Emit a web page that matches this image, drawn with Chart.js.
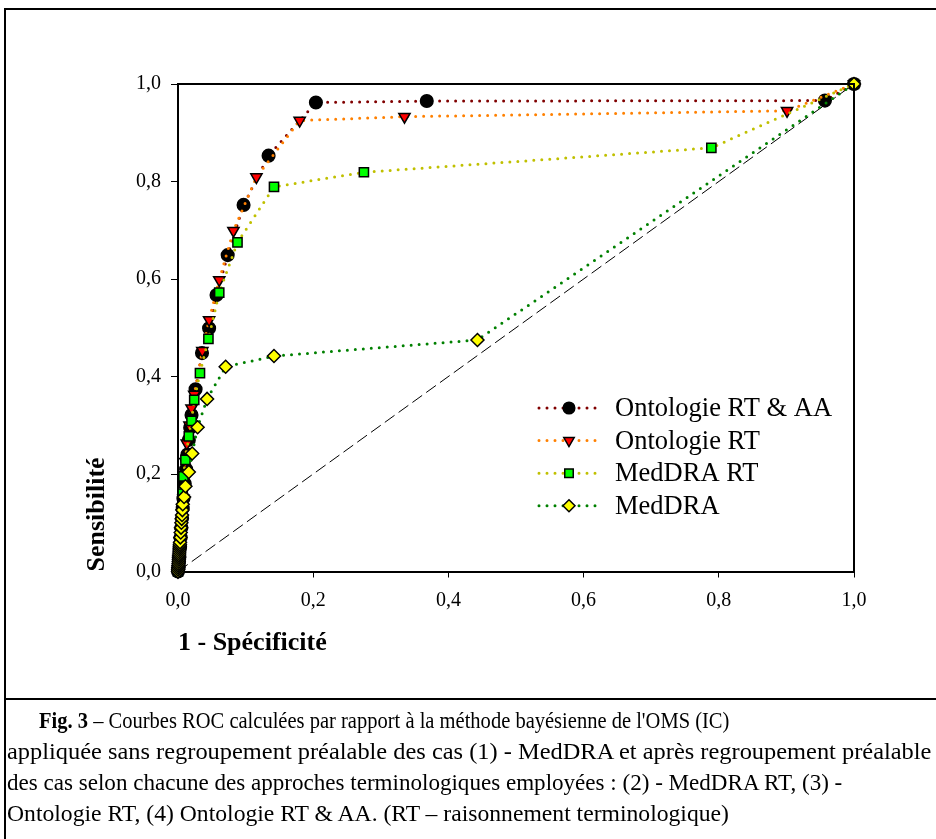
<!DOCTYPE html>
<html>
<head>
<meta charset="utf-8">
<script src="https://cdn.jsdelivr.net/npm/chart.js@4/dist/chart.umd.min.js"></script>
<style>
  body { margin: 0; background: #fff; width: 936px; height: 839px; overflow: hidden; position: relative; }
  #chart { position: absolute; left: 0; top: 0; }
  .frame { position: absolute; left: 4px; top: 8px; width: 1000px; height: 688px;
           border-left: 2px solid #000; border-top: 2px solid #000; border-bottom: 2px solid #000; }
  .legende { position: absolute; left: 4px; top: 700px; width: 1000px; height: 160px;
             border-left: 2px solid #000; box-sizing: border-box; padding: 5px 0 0 1px;
             font-family: "Liberation Serif", "Times New Roman", serif; font-size: 24px; line-height: 31px;
             white-space: nowrap; color: #000; }
  .legende div { height: 31px; }
  .legende span { display: inline-block; transform-origin: 0 0; }
  .l1 { padding-left: 32px; }
  .l1 span { transform: scaleX(0.855); }
  .l2 span { transform: scaleX(1.017); }
  .l3 span { transform: scaleX(0.961); }
  .l4 span { transform: scaleX(0.985); }
</style>
</head>
<body>
<canvas id="chart" width="936" height="699"></canvas>
<div class="frame"></div>
<div class="legende">
  <div class="l1"><span><b>Fig. 3</b> – Courbes ROC calculées par rapport à la méthode bayésienne de l'OMS (IC)</span></div>
  <div class="l2"><span>appliquée sans regroupement préalable des cas (1) - MedDRA et après regroupement préalable</span></div>
  <div class="l3"><span>des cas selon chacune des approches terminologiques employées : (2) - MedDRA RT, (3) -</span></div>
  <div class="l4"><span>Ontologie RT, (4) Ontologie RT &amp; AA. (RT – raisonnement terminologique)</span></div>
</div>
<script>
/* valeurs : 1 - specificite (x) et sensibilite (y) */
const labels = ["Ontologie RT & AA", "Ontologie RT", "MedDRA RT", "MedDRA"]
const tickValues = [0, 0.2, 0.4, 0.6, 0.8, 1.0]

const aaX = [0, 0.0005, 0.001, 0.0015, 0.002, 0.003, 0.004, 0.005, 0.006, 0.007, 0.008, 0.010, 0.012, 0.014, 0.016, 0.018, 0.020, 0.026, 0.0355, 0.046, 0.057, 0.0735, 0.097, 0.134, 0.204, 0.368, 0.957, 1]
const aaY = [0, 0.005, 0.01, 0.02, 0.03, 0.05, 0.07, 0.09, 0.11, 0.13, 0.15, 0.18, 0.21, 0.24, 0.27, 0.295, 0.321, 0.374, 0.448, 0.499, 0.567, 0.649, 0.752, 0.853, 0.962, 0.965, 0.966, 1]

const rtX = [0, 0.001, 0.002, 0.003, 0.004, 0.005, 0.006, 0.008, 0.010, 0.011, 0.013, 0.017, 0.020, 0.024, 0.036, 0.046, 0.061, 0.082, 0.116, 0.180, 0.335, 0.901, 1]
const rtY = [0, 0.02, 0.04, 0.06, 0.08, 0.10, 0.12, 0.15, 0.19, 0.225, 0.263, 0.30, 0.335, 0.363, 0.453, 0.516, 0.598, 0.699, 0.809, 0.925, 0.933, 0.945, 1]

const mrtX = [0, 0.001, 0.002, 0.003, 0.004, 0.005, 0.006, 0.007, 0.008, 0.011, 0.016, 0.020, 0.024, 0.0325, 0.045, 0.061, 0.088, 0.142, 0.275, 0.789, 1]
const mrtY = [0, 0.02, 0.04, 0.06, 0.08, 0.10, 0.13, 0.16, 0.195, 0.229, 0.277, 0.309, 0.352, 0.407, 0.477, 0.572, 0.675, 0.789, 0.819, 0.869, 1]

const medX = [0, 0.0002, 0.0004, 0.0006, 0.0008, 0.001, 0.0012, 0.0014, 0.0016, 0.0018, 0.002, 0.0022, 0.0024, 0.0026, 0.0028, 0.003, 0.0035, 0.004, 0.0045, 0.005, 0.0055, 0.006, 0.0065, 0.007, 0.009, 0.011, 0.016, 0.021, 0.029, 0.043, 0.0705, 0.142, 0.443, 1]
const medY = [0, 0.004, 0.008, 0.012, 0.016, 0.02, 0.024, 0.028, 0.032, 0.036, 0.04, 0.044, 0.048, 0.052, 0.056, 0.06, 0.07, 0.08, 0.09, 0.10, 0.108, 0.116, 0.126, 0.138, 0.153, 0.175, 0.204, 0.242, 0.296, 0.354, 0.420, 0.442, 0.475, 1]

const diagX = [0, 1]
const diagY = [0, 1]

const paires = (xs, ys) => xs.map((x, i) => ({ x: x, y: ys[i] }))
const virgule = (v) => v.toFixed(1).replace('.', ',')

/* style commun des courbes en pointille */
const courbe = (label, xs, ys, couleur, style, fond, rayon, ordre, rotation) => ({
    label: label,
    data: paires(xs, ys),
    borderColor: couleur,
    borderWidth: 3,
    borderDash: [0, 8],
    borderCapStyle: 'round',
    pointStyle: style,
    pointRotation: rotation || 0,
    pointRadius: rayon,
    pointBackgroundColor: fond,
    pointBorderColor: '#000',
    pointBorderWidth: 1.5,
    order: ordre,
    clip: false,
    tension: 0
})

const datasets = [
    courbe(labels[0], aaX, aaY, '#800000', 'circle', '#000', 6.3, 4),
    courbe(labels[1], rtX, rtY, '#ff8000', 'triangle', '#ff0000', 6.5, 3, 180),
    courbe(labels[2], mrtX, mrtY, '#c0c000', 'rect', '#00ff00', 6.5, 2),
    courbe(labels[3], medX, medY, '#008000', 'rectRot', '#ffff00', 6.5, 1),
    {
        label: 'diagonale',
        data: paires(diagX, diagY),
        borderColor: '#000',
        borderWidth: 1,
        borderDash: [12, 5],
        pointRadius: 0,
        order: 5,
        clip: false
    }
]

/* cadre haut et droit autour de la zone du graphique */
const cadre = {
    id: 'cadre',
    afterDraw(chart) {
        const { ctx, chartArea: a } = chart
        ctx.save()
        ctx.strokeStyle = '#000'
        ctx.lineWidth = 2
        ctx.beginPath()
        ctx.moveTo(a.left, a.top)
        ctx.lineTo(a.right, a.top)
        ctx.lineTo(a.right, a.bottom)
        ctx.stroke()
        ctx.restore()
    }
}

/* legende avec le trait pointille et le symbole au milieu */
const legende = {
    id: 'legende',
    afterDraw(chart) {
        const ctx = chart.ctx
        const x0 = 539, x1 = 599, xt = 615
        let y = 408
        ctx.save()
        labels.forEach((label, i) => {
            const ds = chart.data.datasets[i]
            ctx.save()
            ctx.strokeStyle = ds.borderColor
            ctx.lineWidth = 3
            ctx.lineCap = 'round'
            ctx.setLineDash([0, 8])
            ctx.beginPath()
            ctx.moveTo(x0, y)
            ctx.lineTo(x1, y)
            ctx.stroke()
            ctx.restore()
            ctx.save()
            ctx.fillStyle = ds.pointBackgroundColor
            ctx.strokeStyle = '#000'
            ctx.lineWidth = 1.5
            Chart.helpers.drawPoint(ctx, {
                pointStyle: ds.pointStyle,
                rotation: ds.pointRotation,
                radius: ds.pointRadius - 0.5,
                borderWidth: 1.5
            }, 569, y)
            ctx.restore()
            ctx.fillStyle = '#000'
            ctx.font = '26.5px "Liberation Serif", "Times New Roman", serif'
            ctx.textBaseline = 'middle'
            ctx.textAlign = 'left'
            ctx.fillText(label, xt, y + 1)
            y += 32.6
        })
        ctx.restore()
    }
}

const policeTicks = { family: '"Liberation Serif", "Times New Roman", serif', size: 20 }
const policeTitre = { family: '"Liberation Serif", "Times New Roman", serif', size: 26, weight: 'bold' }

new Chart(document.getElementById('chart'), {
    type: 'line',
    data: { datasets: datasets },
    options: {
        responsive: false,
        animation: false,
        events: [],
        layout: { padding: { left: 0, top: 84, right: 82, bottom: 0 } },
        plugins: { legend: { display: false }, tooltip: { enabled: false } },
        scales: {
            x: {
                type: 'linear',
                min: 0,
                max: 1,
                afterBuildTicks: (s) => { s.ticks = tickValues.map((v) => ({ value: v })) },
                afterFit: (s) => { s.height = 127.5 },
                ticks: { color: '#000', font: policeTicks, padding: 11, maxRotation: 0, callback: (v) => virgule(v) },
                grid: { drawOnChartArea: false, drawTicks: true, tickLength: 6, color: '#000', lineWidth: 1 },
                border: { display: true, color: '#000', width: 2 },
                title: { display: true, text: '1 - Spécificité', color: '#000', font: policeTitre, align: 'start', padding: { top: 0, bottom: 40 } }
            },
            y: {
                type: 'linear',
                min: 0,
                max: 1,
                afterBuildTicks: (s) => { s.ticks = tickValues.map((v) => ({ value: v })) },
                afterFit: (s) => { s.width = 178 },
                ticks: { color: '#000', font: policeTicks, padding: 10, callback: (v) => virgule(v) },
                grid: { drawOnChartArea: false, drawTicks: true, tickLength: 7, color: '#000', lineWidth: 1 },
                border: { display: true, color: '#000', width: 2 },
                title: { display: true, text: 'Sensibilité', color: '#000', font: policeTitre, align: 'start', padding: { top: 82, bottom: 0 } }
            }
        }
    },
    plugins: [cadre, legende]
})
</script>
</body>
</html>
